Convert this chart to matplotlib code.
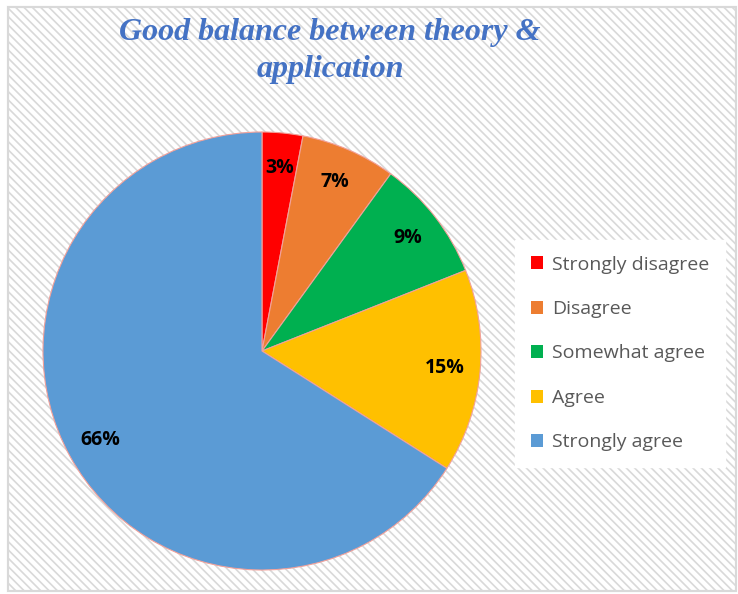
import matplotlib.pyplot as plt
from matplotlib.patches import Rectangle

# data
labels = ["Strongly disagree", "Disagree", "Somewhat agree", "Agree", "Strongly agree"]
values = [3, 7, 9, 15, 66]
colors = ["#FF0000", "#ED7D31", "#00B050", "#FFC000", "#5B9BD5"]
title = "Good balance between theory &\napplication"

W, H = 738, 594
plt.rcParams["hatch.color"] = "#f1f1f1"
plt.rcParams["hatch.linewidth"] = 1.2
fig = plt.figure(figsize=(W / 100, H / 100), dpi=100)
fig.patch.set_facecolor("white")

# hatched background with light border
bg = Rectangle((8 / W, 3 / H), 728 / W, 584 / H, transform=fig.transFigure,
               facecolor="white", edgecolor="#d9d9d9", hatch="\\\\\\\\", linewidth=1.5, zorder=-1)
fig.patches.append(bg)
border = Rectangle((8 / W, 3 / H), 728 / W, 584 / H, transform=fig.transFigure,
                   facecolor="none", edgecolor="#d9d9d9", linewidth=1.5, zorder=-1)
fig.patches.append(border)

# pie
cx, cy, r = 262, 351, 219
ax = fig.add_axes([(cx - r) / W, (H - cy - r) / H, 2 * r / W, 2 * r / H], zorder=2)
ax.set_facecolor("none")
wedges, texts, autotexts = ax.pie(values, colors=colors, startangle=90, counterclock=False,
                                  autopct="%d%%", pctdistance=0.84,
                                  wedgeprops=dict(edgecolor="#f2a19a", linewidth=0.8))
for t in autotexts:
    t.set_fontsize(14)
    t.set_fontweight("bold")
    t.set_color("black")
    t.set_family("Open Sans")
ax.set_xlim(-1, 1)
ax.set_ylim(-1, 1)
ax.axis("off")

fig.text(330 / W, 1 - 51 / H, title, ha="center", va="center", color="#4472C4",
         family="Liberation Serif", fontsize=23, fontweight="bold", style="italic",
         linespacing=1.4)

leg = fig.legend(wedges, labels, loc="upper left", bbox_to_anchor=(515 / W, 1 - 240 / H),
                 borderaxespad=0, frameon=True, fancybox=False,
                 handlelength=0.65, handleheight=0.65, handletextpad=0.45,
                 labelspacing=1.36, borderpad=0.8, prop={"family": "Open Sans", "size": 14})
leg.get_frame().set_facecolor("white")
leg.get_frame().set_edgecolor("white")
leg.get_frame().set_alpha(1)
leg.set_zorder(3)
for t in leg.get_texts():
    t.set_color("#595959")
for h in leg.legend_handles:
    h.set_edgecolor("none")

fig.savefig("out.png", dpi=100)
